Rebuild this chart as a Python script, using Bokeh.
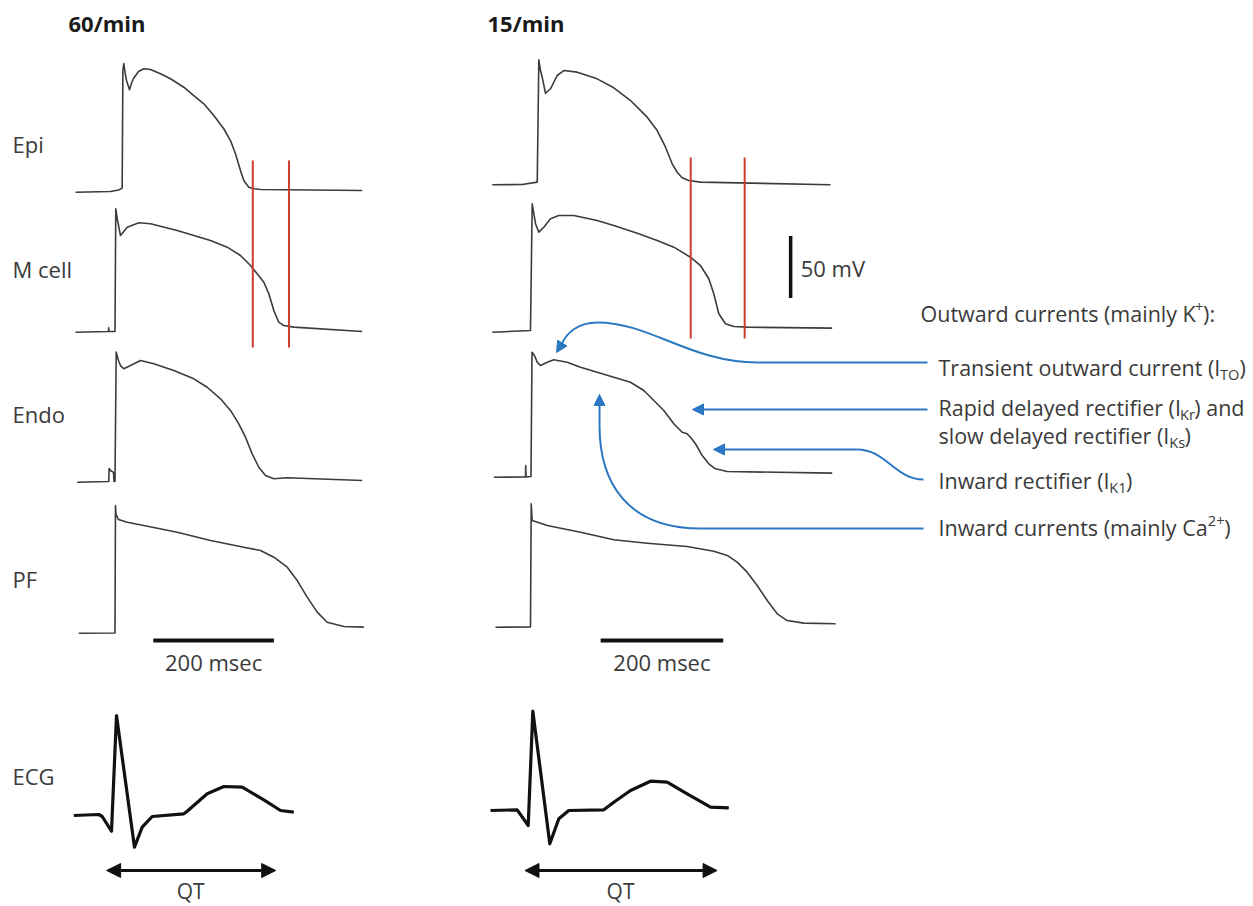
from bokeh.plotting import figure
from bokeh.models import Range1d, Arrow, NormalHead
from bokeh.embed import file_html
from bokeh.resources import INLINE
from bokeh.core.properties import value

# ---------------- data (time in ms, membrane potential in mV) ----------------
RATES = ["60/min", "15/min"]
CELLS = ["Epi", "M cell", "Endo", "PF"]
V_REST = -85

EPI_60_T = [0, 58, 71.6, 77.4, 78.6, 80.1, 82.5, 84.6, 89.6, 93, 96.2, 104.5, 113.3, 124.4, 141.0, 157.5, 179.6, 196.2, 212.8, 229.4, 245.9, 257.0, 265.3, 273.6, 279.1, 287.4, 295.7, 306.8, 475.5]
EPI_60_V = [-85.6, -85, -83.8, -82.3, 12.6, 18.2, 10, 4.5, -3.0, 2.5, 6.1, 11.8, 14.0, 13.4, 9.9, 5.9, -0.9, -7.6, -14.3, -23.7, -34.4, -43.9, -54.6, -68.1, -76.1, -81.5, -82.8, -83.4, -84.2]

MCELL_60_T = [0, 54.7, 55.0, 55.5, 65.5, 66.8, 69.7, 74.6, 85.7, 105, 124.4, 168.7, 196.2, 223.9, 251.6, 273.6, 290.2, 301.3, 312.3, 320.6, 328.9, 337.1, 345.4, 362.0, 475.5]
MCELL_60_V = [-85.6, -85, -82, -85, -85, 13.9, 4.5, -7.6, -0.9, 2.7, 1.9, -3.5, -7.6, -11.6, -17.0, -23.7, -31.8, -38.5, -45.2, -54.6, -68.1, -77.5, -80.2, -81.5, -85]

ENDO_60_T = [2.8, 55.2, 55.7, 58, 63, 63.8, 65.5, 67.5, 71.3, 74.6, 80.1, 91.2, 107.8, 129.9, 163.0, 196.2, 218.4, 240.5, 257.0, 270.8, 281.9, 293.0, 304.0, 315.1, 328.9, 351.1, 475.5]
ENDO_60_V = [-85.6, -85, -74.5, -76.1, -77.7, -85, -85, 19.3, 12.6, 8.5, 5.9, 8.5, 12.6, 9.9, 4.5, -2.2, -9.0, -18.3, -27.7, -38.5, -49.3, -62.7, -73.5, -80.2, -82.8, -82.0, -84.2]

PF_60_T = [5.5, 65.5, 66.3, 67.2, 71.3, 85.7, 113.3, 168.7, 223.9, 279.1, 306.8, 328.9, 351.1, 367.7, 384.2, 400.8, 417.4, 445.0, 478.1]
PF_60_V = [-85.6, -85.4, 17.4, 10.2, 6.1, 3.9, 1.3, -4.1, -10.8, -16.2, -18.9, -24.3, -32.3, -43.1, -56.5, -68.6, -76.7, -80.2, -80.7]

EPI_15_T = [1.1, 50.1, 74.6, 77.2, 79.9, 82.7, 88.1, 96.2, 107.2, 117.9, 139.8, 172.4, 199.5, 226.8, 254.0, 270.3, 283.9, 294.8, 302.9, 311.1, 321.9, 340.9, 553]
EPI_15_V = [-85.2, -85, -83.1, 15.6, 6.9, 1.5, -11.4, -7.8, 2.9, 6.9, 5.6, 0.2, -7.0, -17.3, -30.7, -41.5, -54.9, -68.3, -75.1, -79.6, -81.8, -83.1, -85.2]

MCELL_15_T = [1.1, 63.6, 66.4, 71.8, 77.2, 85.3, 96.2, 109.8, 134.3, 172.4, 199.5, 237.7, 270.3, 297.4, 324.6, 340.9, 354.5, 362.6, 370.8, 381.7, 395.3, 417.1, 555.8]
MCELL_15_V = [-85.6, -84.2, 18, 1.9, -4.9, -0.9, 5.9, 8.5, 8.5, 4.5, 0.5, -5.7, -11.6, -17.0, -25.1, -31.8, -42.5, -54.6, -70.7, -78.8, -81.0, -81.5, -82.3]

ENDO_15_T = [3.8, 55.5, 55.8, 56.4, 64.4, 66.1, 70.1, 74.6, 79.9, 90.9, 101.6, 123.5, 145.2, 172.4, 199.5, 226.8, 248.5, 264.8, 281.1, 297.4, 311.1, 319.2, 324.6, 332.8, 343.7, 354.5, 365.4, 384.5, 555.8]
ENDO_15_V = [-85.6, -85.4, -76.1, -85.4, -85, 15.2, 12.6, 7.2, 4.5, 7.2, 9.1, 7.2, 3.1, -0.9, -4.9, -9.0, -15.6, -23.7, -31.8, -42.5, -49.3, -50.6, -53.3, -58.6, -68.1, -74.8, -78.8, -81.0, -82.3]

PF_15_T = [6.5, 63.6, 64.8, 66.4, 90.9, 145.2, 199.5, 254.0, 319.2, 362.6, 384.5, 400.8, 417.1, 433.4, 449.8, 466.1, 482.4, 509.5, 561.2]
PF_15_V = [-85.6, -85.4, 14, 0.5, -3.5, -9.0, -15.1, -17.8, -20.5, -24.3, -27.7, -33.1, -41.2, -51.9, -64.0, -74.8, -80.2, -82.3, -82.8]

# ECG (time in ms, amplitude in arbitrary units, R peak = 1)
ECG_60_T = [-2.8, 38.6, 44.3, 59.7, 68, 97.8, 110.6, 127.2, 179.6, 185.2, 218.4, 246, 276.4, 312.3, 340, 362]
ECG_60_A = [0, 0.01, -0.01, -0.157, 1.0, -0.317, -0.117, -0.01, 0.017, 0.043, 0.217, 0.29, 0.283, 0.157, 0.05, 0.033]
ECG_15_T = [-1.6, 41.9, 59.9, 67.4, 95.1, 109.8, 126.1, 183.2, 199.5, 226.8, 259.4, 286.6, 319.2, 357.3, 387.1]
ECG_15_A = [0, 0.007, -0.15, 0.993, -0.333, -0.083, 0, 0.007, 0.083, 0.2, 0.293, 0.283, 0.167, 0.033, 0.027]

# markers (ms)
RED_T = {"60/min": [294, 354], "15/min": [325, 413]}
QT_T = {"60/min": [50, 332], "15/min": [53, 368]}
BAR_MS = 200
BAR_START = {"60/min": 129, "15/min": 178}
MV_BAR = 50
MV_BAR_T = 488
MV_BAR_BOTTOM = -58

AP = {
    ("60/min", "Epi"): (EPI_60_T, EPI_60_V),
    ("60/min", "M cell"): (MCELL_60_T, MCELL_60_V),
    ("60/min", "Endo"): (ENDO_60_T, ENDO_60_V),
    ("60/min", "PF"): (PF_60_T, PF_60_V),
    ("15/min", "Epi"): (EPI_15_T, EPI_15_V),
    ("15/min", "M cell"): (MCELL_15_T, MCELL_15_V),
    ("15/min", "Endo"): (ENDO_15_T, ENDO_15_V),
    ("15/min", "PF"): (PF_15_T, PF_15_V),
}
ECG = {"60/min": (ECG_60_T, ECG_60_A), "15/min": (ECG_15_T, ECG_15_A)}

# ---------------- layout ----------------
FONT = "Open Sans"
TXT = "#3a3a3a"
TRACE = "#3c3c3c"
RED = "#d23a2a"
BLUE = "#2a78c2"

COL_X0 = {"60/min": 75, "15/min": 491}
COL_S = {"60/min": 0.603, "15/min": 0.613}
ROW_Y = {"60/min": [191, 331, 481, 632], "15/min": [184, 331, 476, 626]}
ECG_Y = {"60/min": 815, "15/min": 810}
PX_MV = 1.24
ECG_PX = 100

W, H = 1250, 906
p = figure(width=W, height=H, x_range=Range1d(0, W), y_range=Range1d(H, 0),
           output_backend="svg", toolbar_location=None, min_border=0)
p.axis.visible = False
p.grid.visible = False
p.outline_line_color = None
p.background_fill_color = "white"


def xs(rate, ts):
    return [COL_X0[rate] + t * COL_S[rate] for t in ts]


def ys_ap(rate, i, vs):
    return [ROW_Y[rate][i] - (v - V_REST) * PX_MV for v in vs]


for rate in RATES:
    for i, cell in enumerate(CELLS):
        t, v = AP[(rate, cell)]
        p.line(xs(rate, t), ys_ap(rate, i, v), line_color=TRACE, line_width=1.6, line_join="round")
    # red markers
    top = {"60/min": 160, "15/min": 157}[rate]
    bot = {"60/min": 347, "15/min": 338}[rate]
    for rx in xs(rate, RED_T[rate]):
        p.segment(x0=[rx], y0=[top], x1=[rx], y1=[bot], line_color=RED, line_width=2)
    # ECG
    t, a = ECG[rate]
    p.line(xs(rate, t), [ECG_Y[rate] - aa * ECG_PX for aa in a], line_color="#111111", line_width=3.2,
           line_join="round")
    # QT arrow
    q0, q1 = xs(rate, QT_T[rate])
    p.add_layout(Arrow(x_start=q0 + 1, y_start=870, x_end=q1, y_end=870, line_width=3, line_color="#111111",
                       start=NormalHead(size=14, fill_color="#111111", line_color="#111111"),
                       end=NormalHead(size=14, fill_color="#111111", line_color="#111111")))
    p.text(x=[(q0 + q1) / 2], y=[890], text=["QT"], text_font=value(FONT), text_font_size="21px",
           text_align="center", text_baseline="middle", text_color=TXT)
    # time bar
    b0, b1 = xs(rate, [BAR_START[rate], BAR_START[rate] + BAR_MS])
    p.segment(x0=[b0], y0=[640], x1=[b1], y1=[640], line_color="#111111", line_width=4)
    p.text(x=[(b0 + b1) / 2], y=[661], text=[f"{BAR_MS} msec"], text_font=value(FONT), text_font_size="22px",
           text_align="center", text_baseline="middle", text_color=TXT)

# titles
p.text(x=[68, 487], y=[22, 22], text=RATES, text_font=value(FONT), text_font_size="22px",
       text_font_style="bold", text_baseline="middle", text_color="#1a1a1a")

# row labels
p.text(x=[12] * 5, y=[143, 268, 413, 578, 775], text=CELLS + ["ECG"], text_font=value(FONT),
       text_font_size="22px", text_baseline="middle", text_color=TXT)

# 50 mV bar
mx = xs("15/min", [MV_BAR_T])[0]
y_b, y_t = ys_ap("15/min", 1, [MV_BAR_BOTTOM, MV_BAR_BOTTOM + MV_BAR])
p.segment(x0=[mx], y0=[y_b], x1=[mx], y1=[y_t], line_color="#111111", line_width=3.5)
p.text(x=[mx + 10], y=[267], text=[f"{MV_BAR} mV"], text_font=value(FONT), text_font_size="22px",
       text_baseline="middle", text_color=TXT)

# rich text helper
CW = {' ': .26, '(': .291, ')': .291, 'I': .27, 'T': .556, 'O': .781, 'K': .569, 'C': .635, 'R': .59,
      'a': .556, 'b': .613, 'c': .478, 'd': .613, 'e': .561, 'f': .339, 'g': .548, 'h': .614, 'i': .253,
      'k': .504, 'l': .253, 'm': .93, 'n': .614, 'o': .604, 'p': .613, 'r': .408, 's': .477, 't': .349,
      'u': .614, 'w': .788, 'y': .501, ':': .266, '+': .556, '1': .572, '2': .572}


def tw(s, size):
    return sum(CW.get(c, .55) for c in s) * size


def rich(x, y, parts, size=21.5):
    cx = x
    for txt, kind in parts:
        fs = size if kind == "n" else size * 0.68
        dy = {"n": 0, "sub": 6, "sup": -7}[kind]
        p.text(x=[cx], y=[y + dy], text=[txt], text_font=value(FONT), text_font_size=f"{fs:.1f}px",
               text_baseline="middle", text_align="left", text_color=TXT)
        cx += tw(txt, fs)


rich(920, 313, [("Outward currents (mainly K", "n"), ("+", "sup"), ("):", "n")])
rich(938, 367, [("Transient outward current (I", "n"), ("TO", "sub"), (")", "n")])
rich(938, 407, [("Rapid delayed rectifier (I", "n"), ("Kr", "sub"), (") and", "n")])
rich(938, 435, [("slow delayed rectifier (I", "n"), ("Ks", "sub"), (")", "n")])
rich(938, 480, [("Inward rectifier (I", "n"), ("K1", "sub"), (")", "n")])
rich(938, 527, [("Inward currents (mainly Ca", "n"), ("2+", "sup"), (")", "n")])

# blue arrows
LW = 2


def head():
    return NormalHead(size=11, fill_color=BLUE, line_color=BLUE, line_width=1)


# I_TO
p.segment(x0=[927], y0=[362], x1=[757], y1=[362], line_color=BLUE, line_width=LW)
p.bezier(x0=[757], y0=[362], x1=[597], y1=[322], cx0=[690], cy0=[362], cx1=[650], cy1=[322],
         line_color=BLUE, line_width=LW)
p.bezier(x0=[597], y0=[322], x1=[561], y1=[344], cx0=[578], cy0=[322], cx1=[566], cy1=[332],
         line_color=BLUE, line_width=LW)
p.add_layout(Arrow(x_start=561, y_start=344, x_end=556, y_end=352, line_color=BLUE, line_width=LW, end=head()))
# I_Kr / I_Ks
p.add_layout(Arrow(x_start=927, y_start=409, x_end=692, y_end=409, line_color=BLUE, line_width=LW, end=head()))
# I_K1
p.bezier(x0=[923], y0=[479], x1=[857], y1=[449], cx0=[895], cy0=[479], cx1=[885], cy1=[449],
         line_color=BLUE, line_width=LW)
p.add_layout(Arrow(x_start=857, y_start=449, x_end=713, y_end=449, line_color=BLUE, line_width=LW, end=head()))
# Ca
p.segment(x0=[923], y0=[528], x1=[700], y1=[528], line_color=BLUE, line_width=LW)
p.bezier(x0=[700], y0=[528], x1=[599], y1=[425], cx0=[625], cy0=[528], cx1=[599], cy1=[480],
         line_color=BLUE, line_width=LW)
p.add_layout(Arrow(x_start=599, y_start=425, x_end=599, y_end=394, line_color=BLUE, line_width=LW, end=head()))

open("out.html", "w").write(file_html(p, INLINE))
